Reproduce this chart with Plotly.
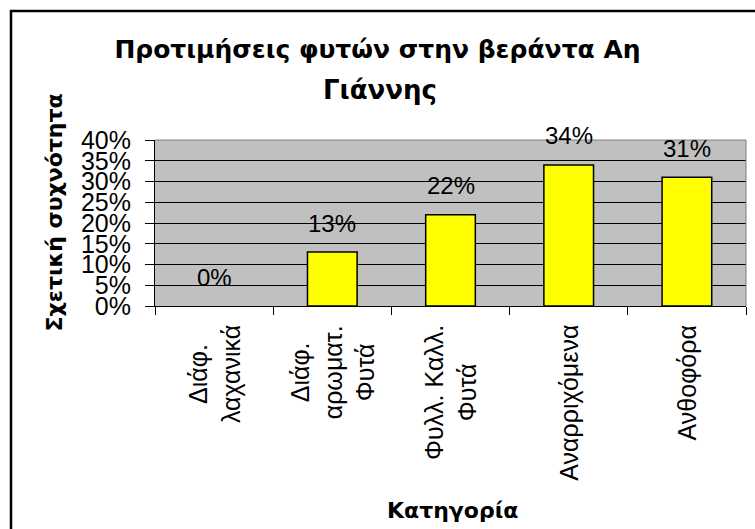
import plotly.graph_objects as go

# ---- data ----
categories = ["Διάφ. λαχανικά", "Διάφ. αρωματ. Φυτά", "Φυλλ. Καλλ. Φυτά", "Αναρριχόμενα", "Ανθοφόρα"]
category_labels = ["Διάφ.<br>λαχανικά", "Διάφ.<br>αρωματ.<br>Φυτά", "Φυλλ. Καλλ.<br>Φυτά", "Αναρριχόμενα", "Ανθοφόρα"]
values = [0.0, 0.13, 0.22, 0.34, 0.31]
value_labels = ["0%", "13%", "22%", "34%", "31%"]
y_ticks = [0, 0.05, 0.10, 0.15, 0.20, 0.25, 0.30, 0.35, 0.40]
y_tick_labels = ["0%", "5%", "10%", "15%", "20%", "25%", "30%", "35%", "40%"]
title_line1 = "Προτιμήσεις φυτών στην βεράντα Αη"
title_line2 = "Γιάννης"
y_title = "Σχετική συχνότητα"
x_title = "Κατηγορία"

FONT = "Liberation Sans, Arial, sans-serif"
BFONT = "DejaVu Sans, Verdana, sans-serif"
W, H = 755, 529
ML, MR, MT, MB = 155, 9, 140, 223
PW = W - ML - MR
PH = H - MT - MB


def px_x(px):
    return (px - ML) / PW


def px_y(py):
    return (H - MB - py) / PH


fig = go.Figure()
fig.add_trace(go.Bar(
    x=categories, y=values,
    marker=dict(color="#FFFF00",
                line=dict(color="black", width=[1.5 if v > 0 else 0 for v in values])),
    hoverinfo="skip",
))

annotations = []
# data labels
for c, v, t in zip(categories, values, value_labels):
    annotations.append(dict(x=c, y=v, xref="x", yref="y", text=t, showarrow=False,
                            yanchor="middle", yshift=29,
                            font=dict(family=FONT, size=24, color="black")))
# category labels
for c, t in zip(categories, category_labels):
    annotations.append(dict(x=c, y=0, xref="x", yref="paper", text=t, showarrow=False,
                            textangle=-90, yanchor="top", xanchor="center", align="center",
                            yshift=-17, font=dict(family=FONT, size=25, color="black")))
# second title line
annotations.append(dict(x=px_x(380), y=px_y(90), xref="paper", yref="paper", text="<b>" + title_line2 + "</b>",
                        showarrow=False, xanchor="center", yanchor="middle",
                        font=dict(family=BFONT, size=26, color="black")))
# axis titles
annotations.append(dict(x=px_x(53.5), y=px_y(213), xref="paper", yref="paper", text="<b>" + y_title + "</b>",
                        showarrow=False, textangle=-90, xanchor="center", yanchor="middle",
                        font=dict(family=BFONT, size=22, color="black")))
annotations.append(dict(x=px_x(452), y=px_y(510), xref="paper", yref="paper", text="<b>" + x_title + "</b>",
                        showarrow=False, xanchor="center", yanchor="middle",
                        font=dict(family=BFONT, size=22, color="black")))

shapes = [
    # outer chart border (only top/left visible)
    dict(type="rect", xref="paper", yref="paper", x0=px_x(11), y0=px_y(600), x1=px_x(900), y1=px_y(11),
         line=dict(color="black", width=2.5), fillcolor="rgba(0,0,0,0)", layer="above"),
    # plot area top/right border in gray
    dict(type="line", xref="paper", yref="paper", x0=0, x1=1, y0=1, y1=1,
         line=dict(color="#808080", width=1), layer="above"),
    dict(type="line", xref="paper", yref="paper", x0=1, x1=1, y0=0, y1=1,
         line=dict(color="#808080", width=1), layer="above"),
]

fig.update_layout(
    width=W, height=H,
    margin=dict(l=ML, r=MR, t=MT, b=MB, pad=0),
    paper_bgcolor="white", plot_bgcolor="#C0C0C0",
    bargap=0.58, showlegend=False,
    title=dict(text="<b>" + title_line1 + "</b>", x=0.5, xref="container", xanchor="center",
               y=1 - 49 / H, yref="container", yanchor="middle",
               font=dict(family=BFONT, size=25, color="black")),
    annotations=annotations, shapes=shapes,
    xaxis=dict(type="category", showticklabels=False, ticks="outside", tickson="boundaries",
               ticklen=8, tickcolor="black", tickwidth=1, showline=True, linecolor="black",
               linewidth=1, showgrid=False, zeroline=False, fixedrange=True),
    yaxis=dict(range=[0, 0.4], tickvals=y_ticks, ticktext=y_tick_labels, ticks="outside",
               ticklen=9, tickcolor="black", tickwidth=1, showline=True, linecolor="black",
               linewidth=1, showgrid=True, gridcolor="black", gridwidth=1, zeroline=False,
               ticklabelstandoff=9,
               tickfont=dict(family=FONT, size=25, color="black"), fixedrange=True),
)

fig.write_html("out.html", config={"displayModeBar": False},
               post_script="document.body.style.margin='0px';")
